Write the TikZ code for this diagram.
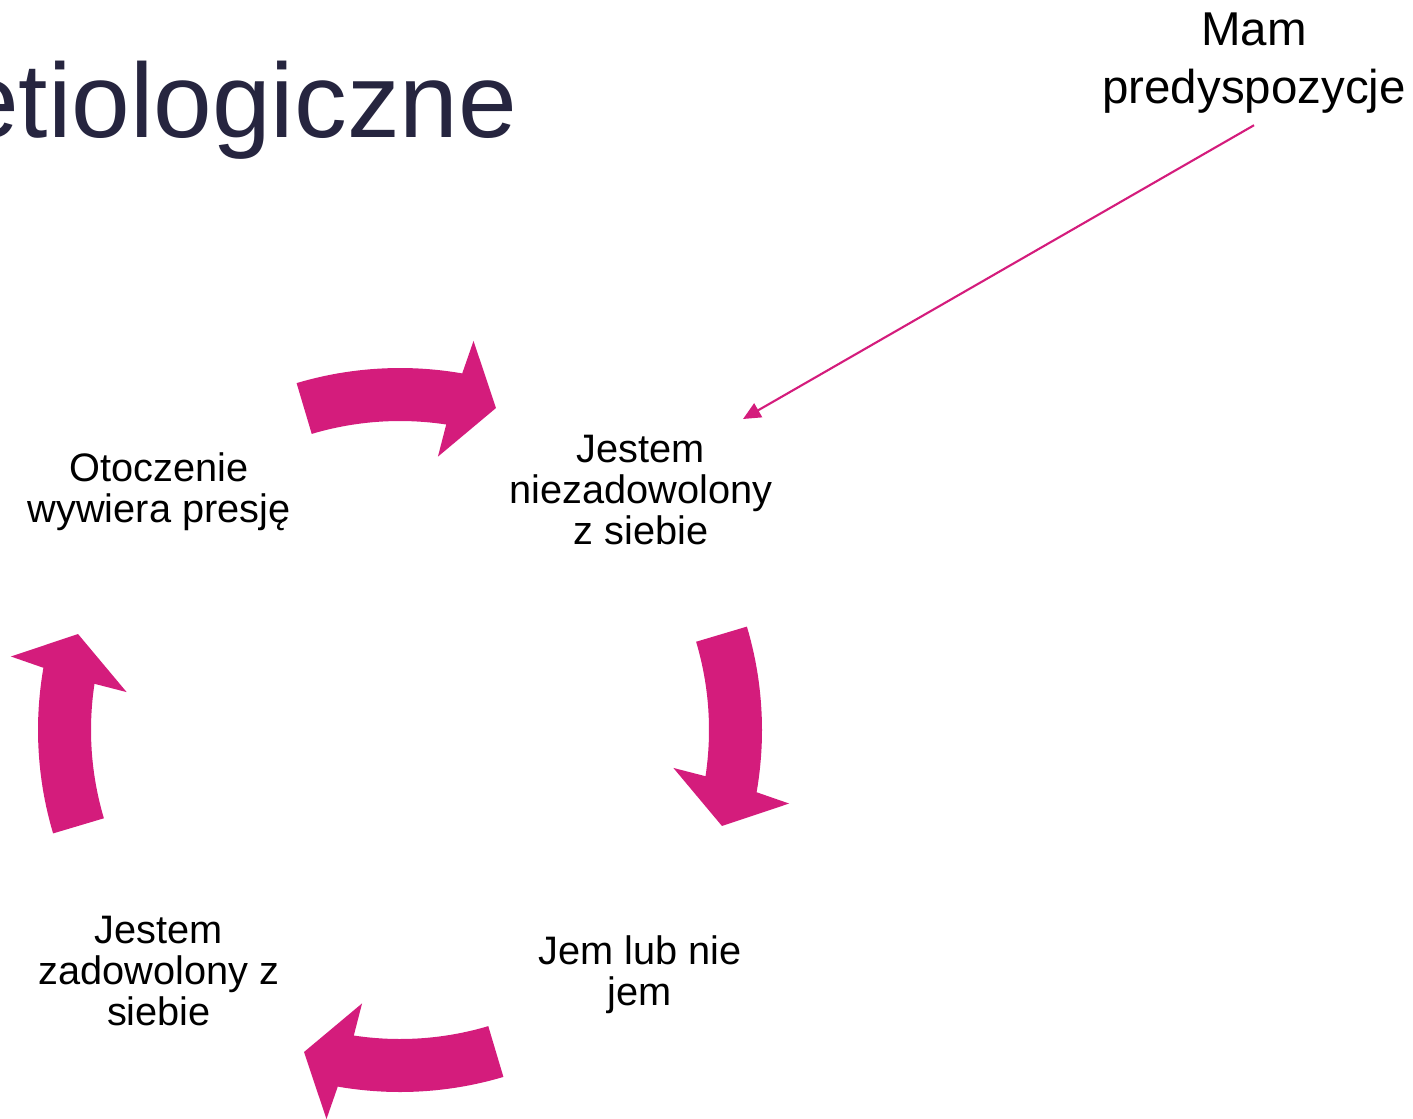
\documentclass[tikz,border=0pt]{standalone}
\usepackage{fontspec}
\setmainfont{Liberation Sans}
\usetikzlibrary{arrows.meta}
\definecolor{CyclePink}{HTML}{D41C7C}
\definecolor{TitleNavy}{HTML}{26253F}
\tikzset{
    title/.style={font=\fontsize{30}{36}\selectfont, text=TitleNavy, inner sep=0pt},
    stage/.style={align=center, font=\fontsize{11.3}{11.7}\selectfont, inner sep=0pt},
    cause/.style={align=center, font=\fontsize{13.5}{16.5}\selectfont, inner sep=0pt},
    thinarr/.style={-{Triangle[length=5pt,width=4.5pt]}, line width=0.6pt, draw=CyclePink},
    bigarrow/.style={fill=CyclePink, draw=none}
}

\begin{document}
\begin{tikzpicture}[x=0.01cm, y=-0.01cm]
    \useasboundingbox (0,0) rectangle (1413,1118);

    % Title (cut at the left edge)
    \node[title, anchor=base east] (title) at (518,137) {etiologiczne};

    % Stages of the cycle
    \node[stage] (niez) at (641,490) {Jestem\\niezadowolony\\z siebie};
    \node[stage] (jem) at (640,975) {Jem lub nie\\jem};
    \node[stage] (zad) at (159,971) {Jestem\\zadowolony z\\siebie};
    \node[stage] (otocz) at (159,492) {Otoczenie\\wywiera presję};

    % Curved arrows between stages
    \begin{scope}[shift={(400,730)}]
        \foreach \r [evaluate=\r as \ta using \r-106.6,
                     evaluate=\r as \oa using \r-80.1,
                     evaluate=\r as \ob using \r-79.3,
                     evaluate=\r as \tp using \r-73.4,
                     evaluate=\r as \ib using \r-82.1,
                     evaluate=\r as \ia using \r-81.4] in {0,90,180,270}
            \fill[bigarrow] plot[domain=\ta:\oa, samples=25] (\x:362)
                -- (\ob:396) -- (\tp:336) -- (\ib:276) -- (\ia:309)
                -- plot[domain=\ia:\ta, samples=25] (\x:309) -- cycle;
    \end{scope}

    % Predisposition
    \node[cause] (mam) at (1254,63) {Mam\\predyspozycje};
    \coordinate (hit) at (743,419);
    \draw[thinarr] ([yshift=-3.2pt]mam.south) -- (hit);
\end{tikzpicture}
\end{document}
